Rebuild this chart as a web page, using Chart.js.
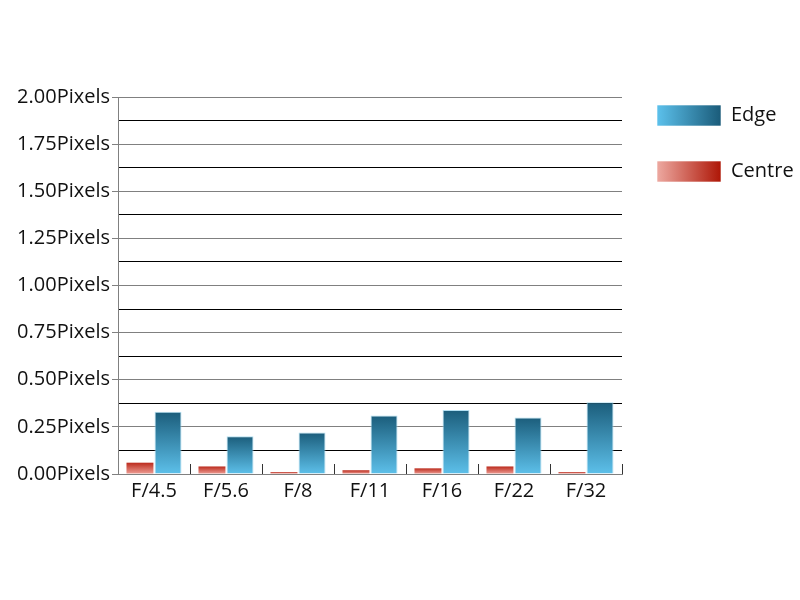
<!DOCTYPE html>
<html>
<head>
<meta charset="utf-8">
<script src="https://cdn.jsdelivr.net/npm/chart.js@4.4.1/dist/chart.umd.min.js"></script>
<style>
  html, body { margin: 0; padding: 0; background: #ffffff; }
  #wrap { width: 800px; height: 600px; }
</style>
</head>
<body>
<div id="wrap"><canvas id="chart" width="800" height="600"></canvas></div>
<script>
const apertures = ["F/4.5", "F/5.6", "F/8", "F/11", "F/16", "F/22", "F/32"];
const centreValues = [0.06, 0.04, 0.01, 0.02, 0.03, 0.04, 0.01];
const edgeValues = [0.33, 0.20, 0.22, 0.31, 0.34, 0.30, 0.38];
const yMin = 0;
const yMax = 2;
const yStep = 0.125;

const fontFamily = "'Open Sans', sans-serif";
const gray = "#808080";

// vertical gradient for each bar, dark on top
function barGradient(ctx, top, bottom) {
  const chart = ctx.chart;
  if (!chart.chartArea || ctx.type !== "data") return bottom;
  const y = chart.scales.y;
  const g = chart.ctx.createLinearGradient(0, y.getPixelForValue(ctx.raw), 0, y.getPixelForValue(0));
  g.addColorStop(0, top);
  g.addColorStop(1, bottom);
  return g;
}

const legendColors = [
  ["#5cc1ec", "#1a5b79"], // Edge
  ["#eda9a1", "#ae1606"], // Centre
];

// legend boxes get a horizontal gradient, and the legend sits near the top
const legendStyle = {
  id: "legendStyle",
  afterLayout(chart) {
    chart.legend.top -= 27;
    chart.legend.bottom -= 27;
  },
  beforeDraw(chart) {
    const legend = chart.legend;
    const labels = legend.options.labels;
    const x0 = legend.left + labels.padding;
    legend.legendItems.forEach((item) => {
      const c = item.datasetIndex === 1 ? legendColors[0] : legendColors[1];
      const g = chart.ctx.createLinearGradient(x0, 0, x0 + labels.boxWidth, 0);
      g.addColorStop(0, c[0]);
      g.addColorStop(1, c[1]);
      item.fillStyle = g;
      item.strokeStyle = "rgba(255,255,255,0.6)";
      item.lineWidth = 1;
    });
  },
};

new Chart(document.getElementById("chart"), {
  type: "bar",
  data: {
    labels: apertures,
    datasets: [
      {
        label: "Centre",
        data: centreValues,
        backgroundColor: (ctx) => barGradient(ctx, "#bb2a1c", "#ee9f96"),
        borderWidth: 0,
      },
      {
        label: "Edge",
        data: edgeValues,
        backgroundColor: (ctx) => barGradient(ctx, "#1b5d7b", "#5dc0ea"),
        borderColor: "rgba(170,220,240,0.9)",
        borderWidth: 1,
      },
    ],
  },
  options: {
    responsive: false,
    animation: false,
    categoryPercentage: 0.78,
    barPercentage: 0.96,
    layout: { padding: { left: 0, top: 97, right: 0, bottom: 86 } },
    plugins: {
      legend: {
        position: "right",
        align: "start",
        reverse: true,
        maxWidth: 178,
        labels: {
          boxWidth: 64,
          boxHeight: 21,
          padding: 35,
          color: "#111",
          font: { family: fontFamily, size: 20 },
        },
      },
      tooltip: { enabled: false },
    },
    scales: {
      x: {
        grid: {
          drawOnChartArea: false,
          tickLength: -10,
          tickColor: "#333",
          offset: true,
        },
        border: { color: gray, width: 1 },
        ticks: {
          color: "#111",
          padding: 15,
          font: { family: fontFamily, size: 20 },
        },
        afterFit: (scale) => {
          scale.height = 40;
        },
      },
      y: {
        min: yMin,
        max: yMax,
        grid: {
          color: (ctx) => (ctx.index % 2 ? "#000000" : gray),
          tickColor: (ctx) => (ctx.index % 2 ? "rgba(0,0,0,0)" : gray),
          tickLength: 6,
          lineWidth: 1,
        },
        border: { color: gray, width: 1 },
        ticks: {
          stepSize: yStep,
          maxTicksLimit: 20,
          autoSkip: false,
          padding: 2,
          color: "#111",
          font: { family: fontFamily, size: 20 },
          callback: (value, index) => (index % 2 ? "" : value.toFixed(2) + "Pixels"),
        },
        afterFit: (scale) => {
          scale.width = 118;
        },
      },
    },
  },
  plugins: [legendStyle],
});
</script>
</body>
</html>
